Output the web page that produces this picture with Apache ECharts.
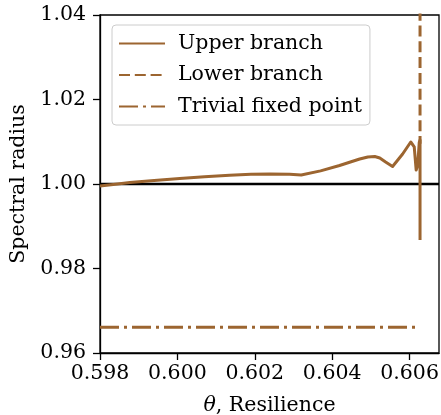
<!DOCTYPE html>
<html><head><meta charset="utf-8">
<script src="https://cdn.jsdelivr.net/npm/echarts@6/dist/echarts.min.js"></script>
<style>html,body{margin:0;padding:0;background:#fff}#c{width:441px;height:415px}</style>
</head><body><div id="c"></div>
<script>
const xTicks = [0.598, 0.600, 0.602, 0.604, 0.606];
const yTicks = [0.96, 0.98, 1.00, 1.02, 1.04];
const upperX = [0.59800, 0.59840, 0.59877, 0.59940, 0.60006, 0.60070, 0.60135, 0.60190, 0.60239, 0.60290, 0.60320, 0.60370, 0.60419, 0.60471, 0.60492, 0.60510, 0.60523, 0.60538, 0.60556, 0.60582, 0.60603, 0.60608, 0.60612, 0.60617, 0.60621, 0.60625, 0.60627, 0.60627];
const upperY = [0.99953, 0.99995, 1.00036, 1.00085, 1.00130, 1.00170, 1.00206, 1.00228, 1.00237, 1.00230, 1.00213, 1.00310, 1.00438, 1.00592, 1.00639, 1.00651, 1.00615, 1.00520, 1.00414, 1.00710, 1.00994, 1.01018, 1.00880, 1.00330, 1.00450, 1.00990, 1.01040, 0.98675];
const lowerX = [0.60627, 0.60627];
const lowerY = [1.045, 1.0095];
const trivialX = [0.5980, 0.60622];
const trivialY = [0.9661, 0.9661];
const refX = [0.5980, 0.60676];
const refY = [1.0, 1.0];

const zip = (a, b) => a.map((v, i) => [v, b[i]]);
const brown = '#9c6530';
const font = 'DejaVu Serif';
const chart = echarts.init(document.getElementById('c'), null, {renderer: 'canvas'});
chart.setOption({
  animation: false,
  grid: {left: 100, top: 15, width: 339, height: 338, outerBoundsMode: 'none', containLabel: false, show: true, borderColor: '#000', borderWidth: 1.3, backgroundColor: 'transparent'},
  xAxis: {
    type: 'value', min: 0.598, max: 0.60676, interval: 0.002,
    name: '{i|θ}, Resilience', nameLocation: 'middle', nameGap: 42,
    nameTextStyle: {fontFamily: font, fontSize: 20.5, color: '#000', rich: {i: {fontFamily: font, fontStyle: 'italic', fontSize: 20.5, color: '#000'}}},
    axisLine: {show: true, lineStyle: {color: '#000', width: 1.3}},
    axisTick: {show: true, inside: false, length: 7, lineStyle: {color: '#000', width: 1.3}},
    axisLabel: {fontFamily: font, fontSize: 20.5, color: '#000', margin: 10, showMaxLabel: false, formatter: v => {const t = xTicks.find(k => Math.abs(k - v) < 1e-9); return t !== undefined ? t.toFixed(3) : '';}},
    splitLine: {show: false}
  },
  yAxis: {
    type: 'value', min: 0.96, max: 1.04, interval: 0.02,
    name: 'Spectral radius', nameLocation: 'middle', nameGap: 63,
    nameTextStyle: {fontFamily: font, fontSize: 20.5, color: '#000'},
    axisLine: {show: true, lineStyle: {color: '#000', width: 1.3}},
    axisTick: {show: true, inside: false, length: 7, lineStyle: {color: '#000', width: 1.3}},
    axisLabel: {fontFamily: font, fontSize: 20.5, color: '#000', margin: 14, formatter: v => {const t = yTicks.find(k => Math.abs(k - v) < 1e-9); return t !== undefined ? t.toFixed(2) : '';}},
    splitLine: {show: false}
  },
  legend: {
    left: 112, top: 25, orient: 'vertical', itemWidth: 46, itemHeight: 14, itemGap: 10.5,
    padding: [8, 8, 8, 6],
    borderColor: '#cccccc', borderWidth: 1, borderRadius: 4, backgroundColor: 'rgba(255,255,255,0.8)',
    itemStyle: {opacity: 0},
    textStyle: {fontFamily: font, fontSize: 20.5, color: '#000', padding: [0, 0, 0, 8]},
    data: ['Upper branch', 'Lower branch', 'Trivial fixed point']
  },
  series: [
    {type: 'line', name: 'ref', data: zip(refX, refY), symbol: 'none', lineStyle: {color: '#000', width: 2.5}, z: 1, silent: true},
    {type: 'line', name: 'Trivial fixed point', data: zip(trivialX, trivialY), symbol: 'none', itemStyle: {color: brown}, lineStyle: {color: brown, width: 3, type: [19, 5, 3, 5]}, z: 2},
    {type: 'line', name: 'Lower branch', data: zip(lowerX, lowerY), symbol: 'none', itemStyle: {color: brown}, lineStyle: {color: brown, width: 3, type: [11, 4.8]}, z: 2},
    {type: 'line', name: 'Upper branch', data: zip(upperX, upperY), symbol: 'none', smooth: false, itemStyle: {color: brown}, lineStyle: {color: brown, width: 3, join: 'round'}, z: 3}
  ]
});
</script></body></html>
